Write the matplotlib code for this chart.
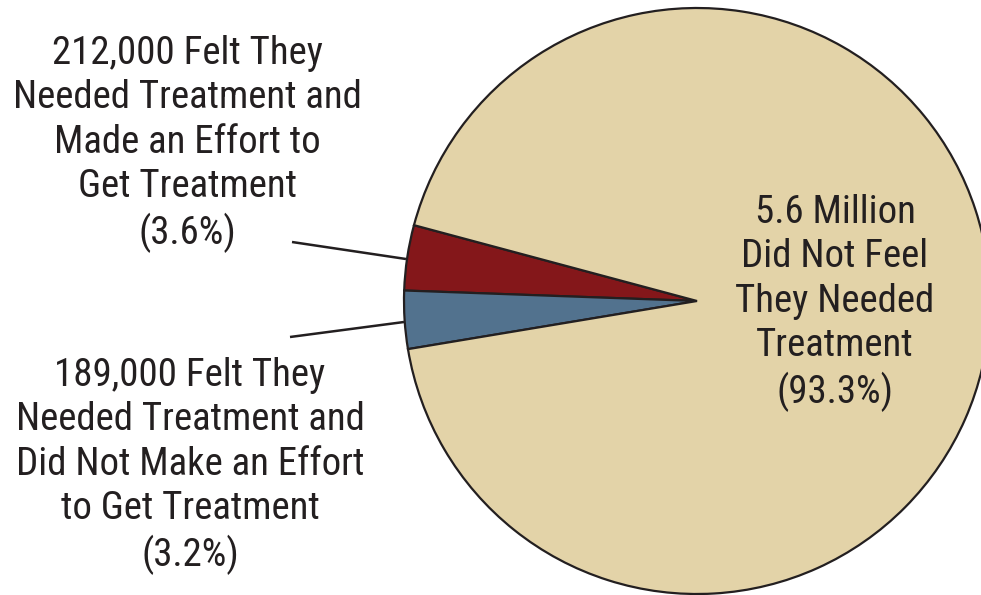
import matplotlib
matplotlib.use("Agg")
import matplotlib.pyplot as plt

labels = [
    "212,000 Felt They\nNeeded Treatment and\nMade an Effort to\nGet Treatment\n(3.6%)",
    "189,000 Felt They\nNeeded Treatment and\nDid Not Make an Effort\nto Get Treatment\n(3.2%)",
    "5.6 Million\nDid Not Feel\nThey Needed\nTreatment\n(93.3%)",
]
values = [3.6, 3.2, 93.3]
colors = ["#84171A", "#52728E", "#E3D3A8"]

W, H = 981, 595
fig = plt.figure(figsize=(W / 100, H / 100), dpi=100)
ax = fig.add_axes([0, 0, 1, 1])

cx, cy, r = 697, H - 301, 293
ax.pie(values, colors=colors, startangle=165, counterclock=True,
       center=(cx, cy), radius=r, frame=True,
       wedgeprops=dict(edgecolor="#231F20", linewidth=1.6))
ax.set_xlim(0, W)
ax.set_ylim(0, H)
ax.set_aspect("equal")
ax.axis("off")

fam = ["Roboto Condensed", "DejaVu Sans"]
tc = "#231F20"
kw = dict(ha="center", va="center", fontsize=28, color=tc, family=fam, linespacing=1.255)
ax.text(187, H - 144, labels[0], **kw)
ax.text(190, H - 466, labels[1], **kw)
ax.text(835, H - 303, labels[2], **kw)

ax.plot([292, 406], [H - 242, H - 259], color=tc, lw=1.8, solid_capstyle="butt")
ax.plot([290, 404], [H - 337, H - 322], color=tc, lw=1.8, solid_capstyle="butt")

fig.savefig("out.png", dpi=100, facecolor="white")
